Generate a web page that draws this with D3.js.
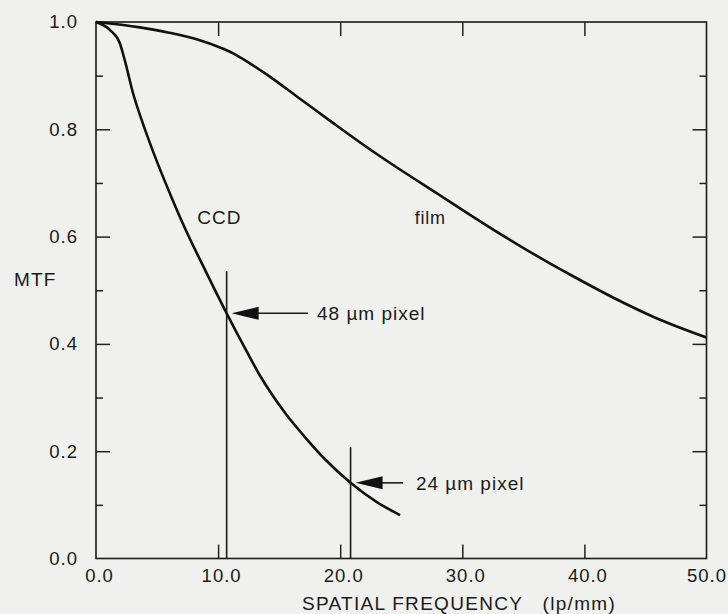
<!DOCTYPE html>
<html>
<head>
<meta charset="utf-8">
<script src="https://cdn.jsdelivr.net/npm/d3@7"></script>
<style>
  html, body { margin: 0; padding: 0; background: #f0f0ee; }
  svg { display: block; }
  text { font-family: "Liberation Sans", Arial, sans-serif; fill: #1a1a1a; }
  .axis path.domain { display: none; }
  .axis line { stroke: #222; stroke-width: 1.5; }
</style>
</head>
<body>
<div id="chart"></div>
<script>
var svgWidth = 728;
var svgHeight = 614;

var margin = { top: 22, right: 21.5, bottom: 55.5, left: 96 };
var width = svgWidth - margin.left - margin.right;
var height = svgHeight - margin.top - margin.bottom;

// MTF curves (spatial frequency in lp/mm)
var ccdFreq = [0, 1.15, 1.96, 2.4, 3.0, 3.85, 4.7, 6.3, 7.1, 9.1, 10.7, 12.2, 13.4, 14.4, 15.6, 16.9, 18.8, 20.85, 23.0, 24.9];
var ccdMtf  = [1.0, 0.985, 0.96, 0.925, 0.87, 0.81, 0.757, 0.667, 0.625, 0.53, 0.457, 0.392, 0.342, 0.306, 0.268, 0.232, 0.184, 0.141, 0.105, 0.081];

var filmFreq = [0, 3.6, 6.0, 8.5, 10.0, 11.2, 12.6, 14.0, 16.7, 19.4, 22.1, 24.9, 28.1, 30.6, 33.6, 37.1, 39.0, 42.3, 46.0, 50.0];
var filmMtf  = [1.0, 0.99, 0.98, 0.966, 0.954, 0.942, 0.923, 0.902, 0.857, 0.812, 0.768, 0.725, 0.678, 0.641, 0.598, 0.551, 0.527, 0.487, 0.447, 0.412];

// pixel Nyquist markers
var pixelLabels = ["48 \u00b5m pixel", "24 \u00b5m pixel"];
var pixelFreq = [10.7, 20.85];
var pixelMtf = [0.457, 0.141];
var pixelLineTop = [0.536, 0.208];
var arrowEnd = [17.36, 25.14];
var pixelLabelX = [18.1, 26.2];

var xTickLabels = [0, 10, 20, 30, 40, 50];
var xTickMarks = [10, 20, 30, 40];
var yTickLabels = [0, 0.2, 0.4, 0.6, 0.8, 1.0];
var yMajor = [0.2, 0.4, 0.6, 0.8];
var yMinor = [0.1, 0.3, 0.5, 0.7, 0.9];

var svg = d3.select("#chart")
  .append("svg")
  .attr("width", svgWidth)
  .attr("height", svgHeight);

var chartGroup = svg.append("g")
  .attr("transform", `translate(${margin.left}, ${margin.top})`);

var x = d3.scaleLinear().domain([0, 50]).range([0, width]);
var y = d3.scaleLinear().domain([0, 1]).range([height, 0]);

// frame
chartGroup.append("rect")
  .attr("x", 0).attr("y", 0)
  .attr("width", width).attr("height", height)
  .attr("fill", "none")
  .attr("stroke", "#1a1a1a")
  .attr("stroke-width", 1.6);

// inward tick marks on all four sides
chartGroup.append("g").attr("class", "axis")
  .attr("transform", `translate(0, ${height})`)
  .call(d3.axisBottom(x).tickValues(xTickMarks).tickSize(-14).tickFormat(""));
chartGroup.append("g").attr("class", "axis")
  .call(d3.axisTop(x).tickValues(xTickMarks).tickSize(-14).tickFormat(""));
chartGroup.append("g").attr("class", "axis")
  .call(d3.axisLeft(y).tickValues(yMajor).tickSize(-14).tickFormat(""));
chartGroup.append("g").attr("class", "axis")
  .call(d3.axisLeft(y).tickValues(yMinor).tickSize(-7).tickFormat(""));
chartGroup.append("g").attr("class", "axis")
  .attr("transform", `translate(${width}, 0)`)
  .call(d3.axisRight(y).tickValues(yMajor).tickSize(-14).tickFormat(""));
chartGroup.append("g").attr("class", "axis")
  .attr("transform", `translate(${width}, 0)`)
  .call(d3.axisRight(y).tickValues(yMinor).tickSize(-7).tickFormat(""));

// tick labels
var xLabels = chartGroup.append("g").attr("class", "axis")
  .attr("transform", `translate(3, ${height})`)
  .call(d3.axisBottom(x).tickValues(xTickLabels).tickSize(0).tickPadding(10).tickFormat(d3.format(".1f")));
xLabels.selectAll("text")
  .attr("font-size", 18.5).attr("letter-spacing", 1).attr("fill", "#1a1a1a");
// last label sits against the page edge
xLabels.selectAll("text").filter(d => d === 50)
  .attr("text-anchor", "end")
  .attr("x", 17);

var yLabels = chartGroup.append("g").attr("class", "axis")
  .call(d3.axisLeft(y).tickValues(yTickLabels).tickSize(0).tickPadding(18).tickFormat(d3.format(".1f")));
yLabels.selectAll("text")
  .attr("font-size", 18.5).attr("letter-spacing", 1).attr("fill", "#1a1a1a");

// axis titles
svg.append("text")
  .attr("x", 459)
  .attr("y", 610)
  .attr("text-anchor", "middle")
  .attr("font-size", 19)
  .attr("letter-spacing", 1.3)
  .style("white-space", "pre")
  .text("SPATIAL FREQUENCY   (lp/mm)");

svg.append("text")
  .attr("x", 14)
  .attr("y", 286)
  .attr("font-size", 19)
  .attr("letter-spacing", 1.2)
  .text("MTF");

// curves
var line = d3.line()
  .x(d => x(d[0]))
  .y(d => y(d[1]))
  .curve(d3.curveMonotoneX);

var ccdData = ccdFreq.map((f, i) => [f, ccdMtf[i]]);
var filmData = filmFreq.map((f, i) => [f, filmMtf[i]]);

chartGroup.append("path")
  .datum(ccdData)
  .attr("d", line)
  .attr("fill", "none")
  .attr("stroke", "#111")
  .attr("stroke-width", 2.6);

chartGroup.append("path")
  .datum(filmData)
  .attr("d", line)
  .attr("fill", "none")
  .attr("stroke", "#111")
  .attr("stroke-width", 2.6);

// curve labels
chartGroup.append("text")
  .attr("x", x(8.3))
  .attr("y", y(0.635))
  .attr("dy", "0.35em")
  .attr("font-size", 19)
  .attr("letter-spacing", 1)
  .text("CCD");

chartGroup.append("text")
  .attr("x", x(26.1))
  .attr("y", y(0.635))
  .attr("dy", "0.35em")
  .attr("font-size", 18)
  .attr("letter-spacing", 0.8)
  .text("film");

// pixel markers: vertical line, arrow, label
pixelFreq.forEach(function(f, i) {
  var px = x(f);
  var py = y(pixelMtf[i]);
  var tip = px + 5;
  var headEnd = tip + 27;
  var tail = x(arrowEnd[i]);

  chartGroup.append("line")
    .attr("x1", px).attr("x2", px)
    .attr("y1", y(pixelLineTop[i])).attr("y2", height)
    .attr("stroke", "#1a1a1a")
    .attr("stroke-width", 1.6);

  chartGroup.append("line")
    .attr("x1", headEnd - 2).attr("x2", tail)
    .attr("y1", py).attr("y2", py)
    .attr("stroke", "#1a1a1a")
    .attr("stroke-width", 1.6);

  chartGroup.append("path")
    .attr("d", `M${tip},${py} L${headEnd},${py - 6.5} L${headEnd},${py + 6.5} Z`)
    .attr("fill", "#111");

  chartGroup.append("text")
    .attr("x", x(pixelLabelX[i]))
    .attr("y", py)
    .attr("dy", "0.35em")
    .attr("font-size", 19)
    .attr("letter-spacing", 1)
    .text(pixelLabels[i]);
});
</script>
</body>
</html>
